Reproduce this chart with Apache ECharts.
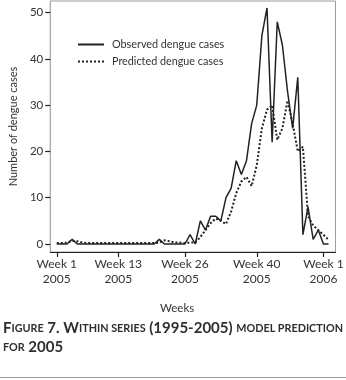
<!DOCTYPE html>
<html>
<head>
<meta charset="utf-8">
<script src="https://cdn.jsdelivr.net/npm/echarts@6/dist/echarts.min.js"></script>
<style>
html,body{margin:0;padding:0;background:#fff;}
#c{width:346px;height:380px;}
</style>
</head>
<body>
<div id="c"></div>
<script>
const weeks = [1,2,3,4,5,6,7,8,9,10,11,12,13,14,15,16,17,18,19,20,21,22,23,24,25,26,27,28,29,30,31,32,33,34,35,36,37,38,39,40,41,42,43,44,45,46,47,48,49,50,51,52,53,54];
const observed = [0,0,0,1,0,0,0,0,0,0,0,0,0,0,0,0,0,0,0,0,1,0,0,0,0,0,2,0,5,3,6,6,5,10,12,18,15,18,26,30,45,51,22,48,43,33,25,36,2,8,1,3,0,0];
const predicted = [0.2,0.2,0.3,0.7,0.6,0.3,0.2,0.2,0.2,0.2,0.2,0.2,0.2,0.2,0.2,0.2,0.2,0.2,0.2,0.2,0.3,0.8,0.6,0.3,0.3,0.2,0.3,0.3,1.5,3,4.5,5.5,5,4.3,7,11,13.5,14.5,12.5,17,25,29,30,22.5,25,31,26,20,21,6,4,3,2,0.9];
const yTicks = [0,10,20,30,40,50];
const xTicks = [1,13,26,40,53];
const xTickLabels = ['Week 1\n2005','Week 13\n2005','Week 26\n2005','Week 40\n2005','Week 1\n2006'];

const FONT = 'Lato';
const TXT = '#333';
const chart = echarts.init(document.getElementById('c'), null, {renderer:'canvas'});
const pair = arr => weeks.map((w,i)=>[w,arr[i]]);
chart.setOption({
  animation:false,
  backgroundColor:'#fff',
  grid:{left:34,right:6,top:1,bottom:128,show:true,borderColor:'#9a9a9a',borderWidth:1,backgroundColor:'transparent'},
  legend:{
    orient:'vertical', left:72, top:34, itemWidth:26, itemHeight:12, itemGap:6,
    itemStyle:{opacity:0},
    textStyle:{fontFamily:FONT,fontSize:10.8,color:TXT,padding:[0,0,0,3]},
    data:['Observed dengue cases','Predicted dengue cases']
  },
  xAxis:{
    type:'value', min:1-7/5.5, max:53+13/5.5,
    axisLine:{show:true,onZero:false,lineStyle:{color:'#222',width:1}},
    axisTick:{show:true,length:5,inside:false,customValues:xTicks,lineStyle:{color:'#222',width:1.2}},
    axisLabel:{customValues:xTicks,margin:5,fontFamily:FONT,fontSize:12,color:TXT,lineHeight:15,
      formatter:v=>xTickLabels[xTicks.indexOf(Math.round(v))]||''},
    splitLine:{show:false}
  },
  yAxis:{
    type:'value', min:-1.73, max:52.5,
    name:'Number of dengue cases', nameLocation:'middle', nameGap:22, nameRotate:90,
    nameTextStyle:{fontFamily:FONT,fontSize:11,color:TXT},
    axisLine:{show:true,onZero:false,lineStyle:{color:'#aaa',width:1}},
    axisTick:{show:true,length:5,customValues:yTicks,lineStyle:{color:'#222',width:1.2}},
    axisLabel:{customValues:yTicks,margin:7,fontFamily:FONT,fontSize:11.5,color:TXT},
    splitLine:{show:false}
  },
  series:[
    {name:'Observed dengue cases',type:'line',data:pair(observed),showSymbol:false,symbol:'none',
     lineStyle:{color:'#222',width:1.5},itemStyle:{color:'#222'},z:3},
    {name:'Predicted dengue cases',type:'line',data:pair(predicted),showSymbol:false,symbol:'none',
     lineStyle:{color:'#222',width:2,type:[2,2]},itemStyle:{color:'#222'},z:2}
  ],
  graphic:[
    {type:'text',left:160,top:302,style:{text:'Weeks',font:'11.5px '+FONT,fill:TXT}},
    {type:'text',left:3,top:319,style:{
      text:'{b|F}{s|IGURE}{b| 7. W}{s|ITHIN SERIES}{b| (1995-2005) }{s|MODEL PREDICTION}\n{s|FOR}{b| 2005}',
      lineHeight:19,
      rich:{
        b:{fontFamily:FONT,fontWeight:'bold',fontSize:15,fill:'#2e2e2e',lineHeight:19},
        s:{fontFamily:FONT,fontWeight:'bold',fontSize:10.8,fill:'#2e2e2e',lineHeight:19}
      }}},
    {type:'line',shape:{x1:0,y1:377.5,x2:346,y2:377.5},style:{stroke:'#999',lineWidth:1}}
  ]
});
</script>
</body>
</html>
